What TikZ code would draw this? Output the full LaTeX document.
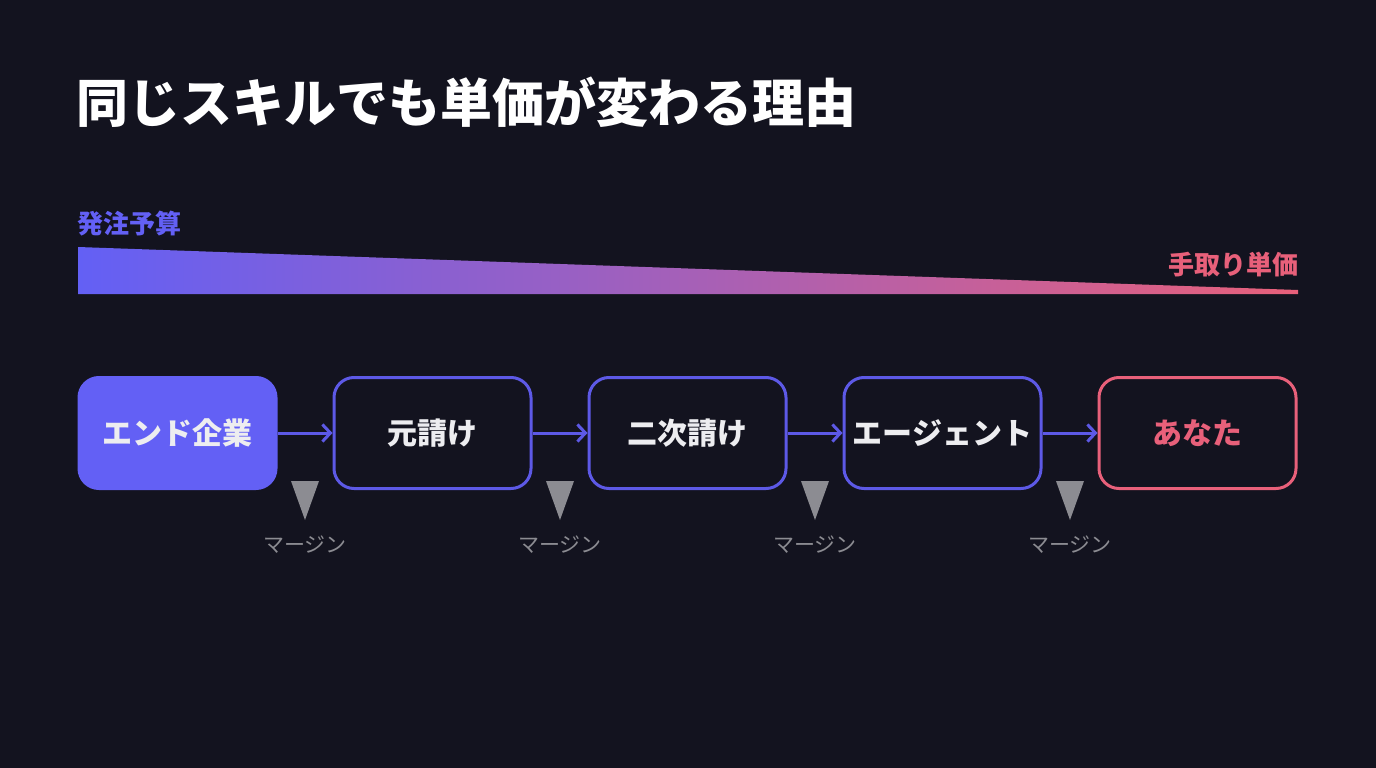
\documentclass[tikz,border=0pt]{standalone}
\usepackage{fontspec}
\setmainfont{Noto Sans CJK JP}
\usepackage{tikz}
\usetikzlibrary{positioning,arrows.meta,calc}
\definecolor{bgdark}{RGB}{19,19,31}
\definecolor{accent}{RGB}{99,96,245}
\definecolor{accentline}{RGB}{93,89,230}
\definecolor{pinkred}{RGB}{232,96,122}
\definecolor{softwhite}{RGB}{237,237,240}
\definecolor{mgray}{RGB}{140,140,146}

\begin{document}
\begin{tikzpicture}[
x=1pt,y=-1pt,
stage/.style={
	draw=accentline,
	line width=3pt,
	rounded corners=20pt,
	fill=bgdark,
	text=softwhite,
	minimum width=197pt,
	minimum height=111pt,
	font=\fontsize{30}{32}\selectfont\bfseries
},
flow/.style={
	draw=accentline,
	line width=3pt,
	-{Straight Barb[length=8pt,width=17pt,line width=3pt]}
},
marg/.style={
	text=mgray,
	font=\fontsize{21}{23}\selectfont
},
node distance=55pt
]
\useasboundingbox[fill=bgdark] (0,0) rectangle (1376,768);

\node[anchor=west,inner sep=0pt,text=white,font=\fontsize{52}{56}\selectfont\bfseries]
(title) at (76,102) {同じスキルでも単価が変わる理由};

\node[anchor=west,inner sep=0pt,text=accent,font=\fontsize{26}{28}\selectfont\bfseries]
(budget) at (77,224) {発注予算};
\node[anchor=east,inner sep=0pt,text=pinkred,font=\fontsize{26}{28}\selectfont\bfseries]
(pay) at (1299,265) {手取り単価};
\shade[left color=accent,right color=pinkred]
(78,247) -- (1298,290) -- (1298,294) -- (78,294) -- cycle;

\node[stage,fill=accent,draw=accent] at (177.5,433)
(endco) {エンド企業};
\node[stage,right=of endco]
(prime) {元請け};
\node[stage,right=of prime]
(second) {二次請け};
\node[stage,right=of second]
(agent) {エージェント};
\node[stage,right=of agent,draw=pinkred,text=pinkred]
(you) {あなた};

\draw[flow] (endco) -- (prime);
\draw[flow] (prime) -- (second);
\draw[flow] (second) -- (agent);
\draw[flow] (agent) -- (you);

\foreach \a/\b/\i in {endco/prime/1,prime/second/2,second/agent/3,agent/you/4}{
	\coordinate (m\i) at ($(\a.east)!0.5!(\b.west)$);
	\fill[mgray] (m\i |- 0,481) -- ++(-14,0) -- ++(14,39) -- ++(14,-39) -- cycle;
	\node[marg] (lbl\i) at (m\i |- 0,545) {マージン};
}

\end{tikzpicture}
\end{document}
